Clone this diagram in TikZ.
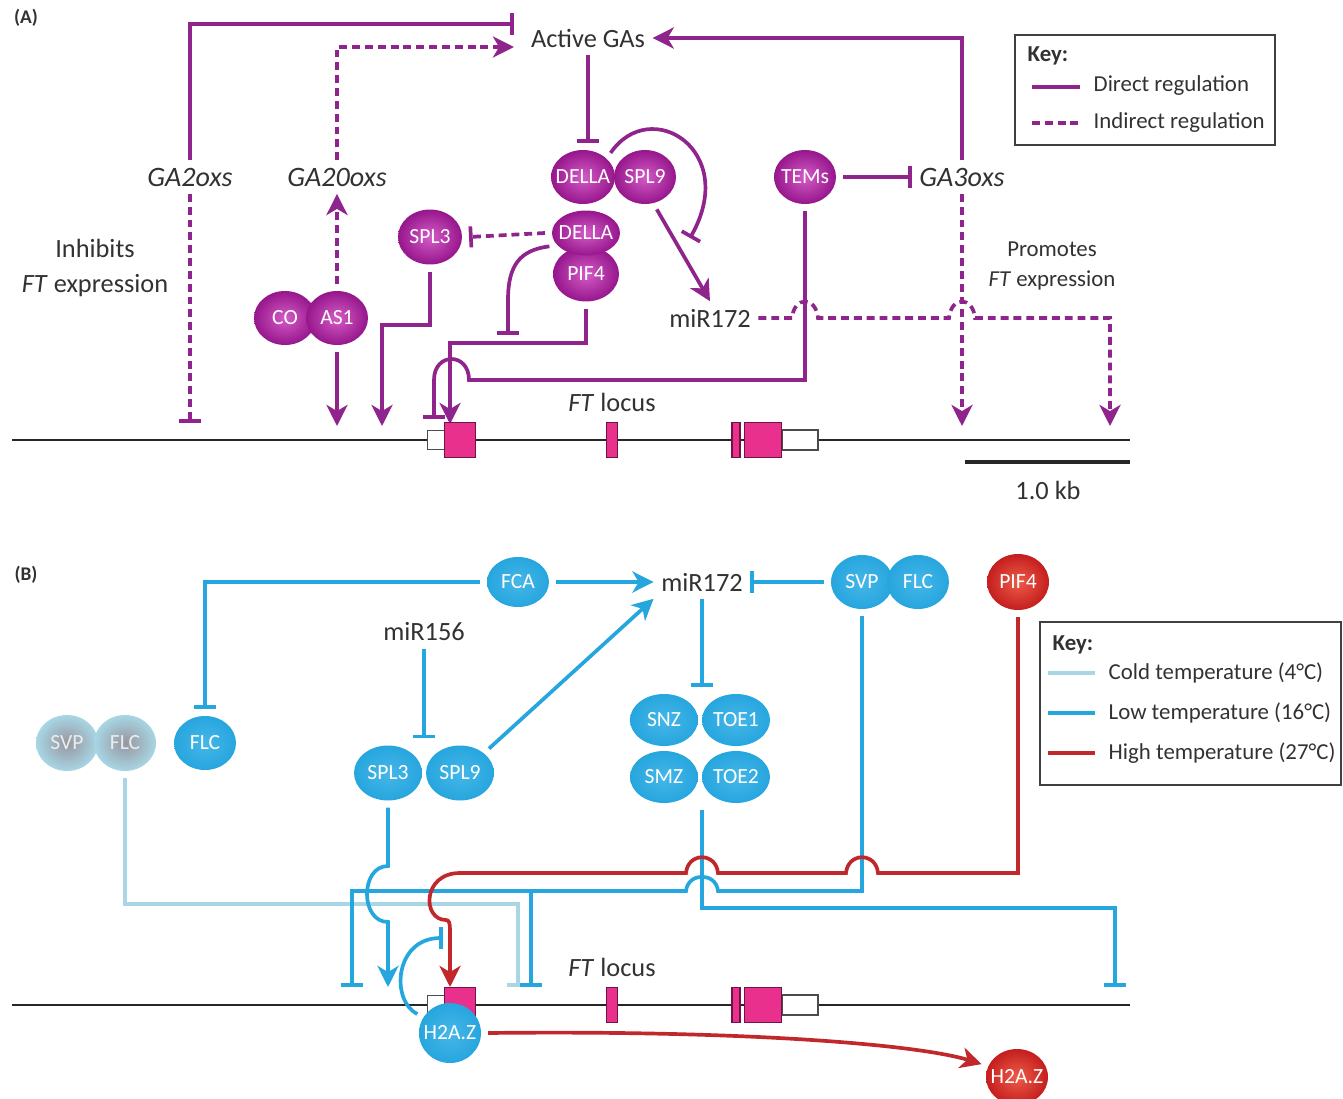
\documentclass[tikz,border=0pt]{standalone}
\usepackage{fontspec}
\setmainfont{Carlito}
\usetikzlibrary{arrows.meta,shapes.geometric}

\definecolor{purp}{RGB}{142,36,140}
\definecolor{pin}{RGB}{212,92,198}
\definecolor{pout}{RGB}{150,22,140}
\definecolor{exonfill}{RGB}{232,48,140}
\definecolor{exonline}{RGB}{110,20,70}
\definecolor{blu}{RGB}{38,166,222}
\definecolor{bin}{RGB}{70,182,232}
\definecolor{cold}{RGB}{168,214,228}
\definecolor{cin}{RGB}{150,150,160}
\definecolor{redl}{RGB}{192,40,44}
\definecolor{rin}{RGB}{238,92,72}
\definecolor{rout}{RGB}{196,30,30}
\definecolor{ink}{RGB}{50,50,50}

\begin{document}
\begin{tikzpicture}[x=0.02cm,y=-0.02cm,line width=2.1pt,
  tag/.style={font=\fontsize{11}{12}\selectfont\bfseries,text=ink},
  lbl/.style={font=\fontsize{15}{20}\selectfont,text=ink},
  small/.style={font=\fontsize{13}{17.6}\selectfont,text=ink},
  gene/.style={font=\fontsize{16}{18}\selectfont\itshape,text=ink},
  keytxt/.style={font=\fontsize{13}{15}\selectfont,text=ink,anchor=west},
  prot/.style={ellipse,inner xsep=-14pt,inner ysep=-8pt,outer sep=4pt,
    minimum width=1.24cm,minimum height=1.08cm,text=white,
    font=\fontsize{12.3}{13}\selectfont},
  pprot/.style={prot,inner color=pin,outer color=pout},
  bprot/.style={prot,inner color=bin,outer color=blu},
  rprot/.style={prot,inner color=rin,outer color=rout},
  cprot/.style={prot,inner color=cin,outer color=cold,text=white!85!gray},
  act/.style={-{Stealth[length=12pt,width=12pt,inset=3.5pt]}},
  inh/.style={-{Bar[width=12pt]}},
  ind/.style={dash pattern=on 4.5pt off 2.8pt},
  exon/.style={rectangle,draw=exonline,fill=exonfill,line width=0.8pt,inner sep=0pt,minimum height=0.7cm},
  utr/.style={rectangle,draw=black!70,fill=white,line width=0.8pt,inner sep=0pt},
]
\useasboundingbox (0,0) rectangle (1343,1099);

% ---------- panel A ----------
\node[tag] (tagA) at (26,18) {(A)};
\node[lbl] (gas) at (588,38) {Active GAs};
\node[gene] (ga2) at (190,177) {GA2oxs};
\node[gene] (ga20) at (337,177) {GA20oxs};
\node[gene] (ga3) at (962,177) {GA3oxs};
\node[lbl,align=center] (inhib) at (95,268) {Inhibits\\\textit{FT} expression};
\node[small,align=center] (promo) at (1052,266) {Promotes\\\textit{FT} expression};
\node[lbl] (mirA) at (710,318) {miR172};

\node[pprot] (co) at (285,318) {CO};
\node[pprot] (as1) at (337,318) {AS1};
\node[pprot,minimum width=1.28cm,minimum height=1.1cm] (spl3A) at (430,237) {SPL3};
\node[pprot,minimum width=1.28cm] (della1) at (583,177) {DELLA};
\node[pprot] (spl9A) at (645,177) {SPL9};
\node[pprot,minimum width=1.32cm,minimum height=1.1cm] (pif4A) at (586,274) {PIF4};
\node[pprot,minimum width=1.36cm,minimum height=0.9cm] (della2) at (586,233) {DELLA};
\node[pprot] (tems) at (805,177) {TEMs};

\coordinate (gasIn) at (514,24);
\coordinate (gasAct) at (514,47);
\coordinate (ga2End) at (190,423);
\coordinate (as1End) at (337,426);
\coordinate (spl3End) at (382,426);
\coordinate (loopEnd) at (690,238);
\coordinate (dellaEnd) at (508,335);
\coordinate (pifEnd) at (450,424);
\coordinate (temsEnd) at (434,419);
\coordinate (ga3End) at (962,426);
\coordinate (mirEnd) at (1110,426);

\draw[purp,inh] (ga2.north) |- (gasIn);
\draw[purp,inh,ind] (ga2.south) -- (ga2End);
\draw[purp,act,ind] (ga20.north) |- (gasAct);
\draw[purp,act,ind] (as1.north) -- (ga20.south);
\draw[purp,act] (as1.south) -- (as1End);
\draw[purp,act] (spl3A.south) |- (382,325) -- (spl3End);
\draw[purp,inh] (gas.south) -- (gas.south |- della1.north);
\draw[purp,inh] (della1.north east) .. controls (650,95) and (740,150) .. (loopEnd);
\draw[purp,act] (spl9A.-70) -- (mirA.north);
\draw[purp,inh,ind] (della2.west) -- (spl3A.east);
\draw[purp,inh] (della2.200) .. controls (520,250) and (508,265) .. (508,300) -- (dellaEnd);
\draw[purp,act] (pif4A.south) |- (450,343) -- (pifEnd);
\draw[purp,inh] (tems.east) -- (ga3.west);
\draw[purp,inh] (tems.south) |- (469,380) .. controls (469,352) and (434,352) .. (434,380) -- (temsEnd);
\draw[purp,act] (ga3.north) |- (gas.east);
\draw[purp,act,ind] (ga3.south) -- (ga3End);
\draw[purp,act,ind] (mirA.east) -- (792,318) .. controls (794,296) and (816,296) .. (818,318)
  -- (949,318) .. controls (951,296) and (973,296) .. (975,318) -- (1110,318) -- (mirEnd);

% key A
\draw[line width=0.8pt,black!75] (1015,35) rectangle (1275,145);
\node[keytxt,font=\fontsize{13}{15}\selectfont\bfseries] (keyA) at (1020,56) {Key:};
\draw[purp] (1032,87) -- (1080,87);
\node[keytxt] (kdir) at (1086,86) {Direct regulation};
\draw[purp,ind] (1032,123) -- (1080,123);
\node[keytxt] (kind) at (1086,123) {Indirect regulation};

% scale bar
\draw[line width=2.8pt,black!85] (965,462) -- (1130,462);
\node[lbl] (kb) at (1048,490) {1.0 kb};

% ---------- both FT loci ----------
\foreach \ly/\nm in {440/A,1005/B}{
  \draw[line width=1.4pt,black!85] (12,\ly) -- (1130,\ly);
  \node[utr,minimum width=0.34cm,minimum height=0.38cm] (utr5\nm) at (436,\ly) {};
  \node[exon,minimum width=0.62cm] (ex1\nm) at (460,\ly) {};
  \node[exon,minimum width=0.22cm] (ex2\nm) at (612,\ly) {};
  \node[exon,minimum width=0.16cm] (ex3\nm) at (736,\ly) {};
  \node[utr,minimum width=0.72cm,minimum height=0.4cm] (utr3\nm) at (800,\ly) {};
  \node[exon,minimum width=0.74cm] (ex4\nm) at (763,\ly) {};
  \node[lbl] (loc\nm) at (612,\ly-38) {\textit{FT} locus};
}

% ---------- panel B ----------
\node[tag] (tagB) at (26,575) {(B)};
\node[bprot,minimum height=1.0cm] (fca) at (518,582) {FCA};
\node[lbl] (mirB) at (702,582) {miR172};
\node[bprot] (svpB) at (862,582) {SVP};
\node[bprot] (flcB) at (918,582) {FLC};
\node[rprot,minimum height=1.12cm] (pif4B) at (1018,582) {PIF4};
\node[lbl] (mir156) at (424,632) {miR156};
\node[bprot] (flc1) at (205,743) {FLC};
\node[cprot,minimum height=1.12cm] (svpC) at (67,743) {SVP};
\node[cprot,minimum height=1.12cm] (flcC) at (125,743) {FLC};
\node[bprot,minimum width=1.36cm,minimum height=1.1cm] (spl3B) at (388,773) {SPL3};
\node[bprot,minimum width=1.36cm,minimum height=1.1cm] (spl9B) at (460,773) {SPL9};
\node[bprot,minimum width=1.36cm,minimum height=1.04cm] (snz) at (664,720) {SNZ};
\node[bprot,minimum width=1.36cm,minimum height=1.04cm] (toe1) at (736,720) {TOE1};
\node[bprot,minimum width=1.36cm,minimum height=1.04cm] (smz) at (664,777) {SMZ};
\node[bprot,minimum width=1.36cm,minimum height=1.04cm] (toe2) at (736,777) {TOE2};

\coordinate (splEnd) at (388,987);
\coordinate (coldEnd) at (518,987);
\coordinate (lowJoin) at (531,891);
\coordinate (lowEnd1) at (352,987);
\coordinate (lowEnd2) at (531,987);
\coordinate (snzEnd) at (1115,987);
\coordinate (redEnd) at (450,987);
\coordinate (h2azBar) at (443,938);

\draw[blu,inh] (fca.west) -| (flc1.north);
\draw[blu,act] (fca.east) -- (mirB.west);
\draw[blu,inh] (svpB.west) -- (mirB.east);
\draw[blu,inh] (mir156.south) -- (mir156.south |- spl3B.north);
\draw[blu,act] (spl9B.north east) -- (mirB.south west);
\draw[blu,inh] (mirB.south) -- (mirB.south |- snz.north);
\draw[cold,inh] (flcC.south) |- (518,904) -- (coldEnd);
\draw[blu,inh] (svpB.south) |- (718,891) .. controls (716,872) and (688,872) .. (686,891)
  -- (352,891) -- (lowEnd1);
\draw[blu,inh] (lowJoin) -- (lowEnd2);
\draw[blu,inh] (mirB.south |- smz.south) -- (702,908) -- (1115,908) -- (snzEnd);
\draw[blu,act] (spl3B.south) -- (388,866) .. controls (360,866) and (360,922) .. (388,922) -- (splEnd);
\draw[redl,act] (pif4B.south) |- (878,873) .. controls (876,852) and (848,852) .. (846,873)
  -- (718,873) .. controls (716,852) and (688,852) .. (686,873)
  -- (460,873) .. controls (422,873) and (422,920) .. (446,920)
  .. controls (449,920) and (450,923) .. (450,930) -- (redEnd);

\node[bprot,minimum height=1.2cm] (h2az) at (450,1033) {H2A.Z};
\node[rprot,minimum height=1.12cm] (h2azR) at (1017,1077) {H2A.Z};
\draw[blu,inh] (h2az.150) .. controls (390,1000) and (395,938) .. (h2azBar);
\draw[redl,act] (h2az.east) .. controls (750,1030) and (920,1045) .. (h2azR.160);

% key B
\draw[line width=0.8pt,black!75] (1040,622) rectangle (1341,785);
\node[keytxt,font=\fontsize{13}{15}\selectfont\bfseries] (keyB) at (1045,645) {Key:};
\draw[cold] (1048,673) -- (1095,673);
\node[keytxt] (kcold) at (1101,673) {Cold temperature (4°C)};
\draw[blu] (1048,713) -- (1095,713);
\node[keytxt] (klow) at (1101,713) {Low temperature (16°C)};
\draw[redl] (1048,753) -- (1095,753);
\node[keytxt] (khigh) at (1101,753) {High temperature (27°C)};
\end{tikzpicture}
\end{document}
